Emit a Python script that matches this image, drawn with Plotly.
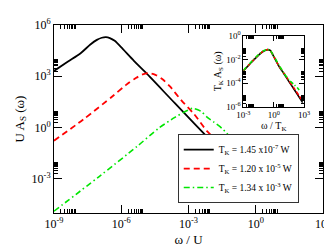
import plotly.graph_objects as go

# ---------------- data (main panel) ----------------
black_w = [1.0e-9, 4.06e-9, 1.54e-8, 4.19e-8, 8.18e-8, 1.35e-7, 2.07e-7, 3.10e-7, 5.12e-7,
           1.19e-6, 3.67e-6, 1.22e-5, 2.46e-4, 1.35e-2, 2.72e-1]
black_a = [2065, 7063, 22387, 71779, 134586, 179473, 195884, 172584, 118577,
           38371, 7998, 1667, 26.6, 0.111, 1.7e-3]

red_w = [1.0e-9, 2.16e-8, 4.36e-7, 1.65e-6, 4.49e-6, 9.06e-6, 1.65e-5, 3.33e-5, 6.70e-5,
         1.49e-4, 4.82e-4, 1.82e-3, 6.90e-3, 2.64e-2, 0.449]
red_a = [0.170, 3.16, 72.6, 315, 785, 1297, 1528, 1219, 693, 254, 38.7, 5.90, 0.596, 0.111, 1.7e-3]

green_w = [1.0e-9, 1.0e-7, 5.32e-6, 4.62e-5, 2.46e-4, 9.33e-4, 1.54e-3, 3.56e-3, 6.90e-3,
           1.35e-2, 3.10e-2, 0.1, 0.741]
green_a = [1.28e-5, 1.32e-3, 8.3e-2, 0.90, 3.91, 10.4, 13.3, 8.93, 3.91, 2.08, 0.90, 0.183, 0.0185]

names = ["T<sub>K</sub> = 1.45 x10<sup>-7</sup> W",
         "T<sub>K</sub> = 1.20 x 10<sup>-5</sup> W",
         "T<sub>K</sub> = 1.34 x 10<sup>-3</sup> W"]

# ---------------- data (inset, scaled) ----------------
inset_x_bk = [0.001, 0.00316, 0.01, 0.0316, 0.0794, 0.158, 0.251, 0.447, 1, 3.16, 10, 31.6, 100, 316, 708]
inset_bk = [1.10e-3, 3.16e-3, 8.91e-3, 2.40e-2, 4.68e-2, 6.31e-2, 7.08e-2, 6.03e-2, 1.78e-2,
            2.82e-3, 6.31e-4, 1.35e-4, 3.02e-5, 6.31e-6, 2.19e-6]
inset_x_rd = [0.001, 0.00316, 0.01, 0.0316, 0.0794, 0.158, 0.251, 0.447, 1, 3.16, 10, 31.6, 100, 316, 708]
inset_rd = [1.15e-3, 3.24e-3, 9.12e-3, 2.45e-2, 4.79e-2, 6.46e-2, 7.08e-2, 6.03e-2, 1.86e-2,
            3.02e-3, 7.08e-4, 1.58e-4, 3.72e-5, 8.32e-6, 3.02e-6]
inset_x_gr = [0.001, 0.00316, 0.01, 0.0316, 0.0794, 0.158, 0.251, 0.447, 1, 3.16, 10, 31.6, 79.4, 224, 398]
inset_gr = [1.20e-3, 3.47e-3, 1.0e-2, 2.63e-2, 5.01e-2, 6.61e-2, 7.08e-2, 6.03e-2, 2.0e-2,
            3.55e-3, 7.08e-4, 1.91e-4, 8.91e-5, 3.80e-5, 2.0e-5]

# ---------------- ticks ----------------
main_x_ticks = [1e-9, 1e-6, 1e-3, 1e0, 1e3]
main_x_text = ["10<sup>-9</sup>", "10<sup>-6</sup>", "10<sup>-3</sup>", "10<sup>0</sup>", "10<sup>3</sup>"]
main_y_ticks = [1e-3, 1e0, 1e3, 1e6]
main_y_text = ["10<sup>-3</sup>", "10<sup>0</sup>", "10<sup>3</sup>", "10<sup>6</sup>"]
inset_x_ticks = [1e-3, 1e0, 1e3]
inset_x_text = ["10<sup>-3</sup>", "10<sup>0</sup>", "10<sup>3</sup>"]
inset_y_ticks = [1e-6, 1e-4, 1e-2, 1e0]
inset_y_text = ["10<sup>-6</sup>", "10<sup>-4</sup>", "10<sup>-2</sup>", "10<sup>0</sup>"]


def minors(bases):
    return [m * b for b in bases for m in range(2, 10)]


FONT = "Liberation Serif"
colors = ["#000000", "#ff0000", "#00e600"]
dashes = ["solid", "6px,4px", "6px,3px,1.5px,3px"]
widths = [1.8, 1.8, 1.6]

fig = go.Figure()
for w, a, n, c, d, lw in zip([black_w, red_w, green_w], [black_a, red_a, green_a], names, colors, dashes, widths):
    fig.add_trace(go.Scatter(x=w, y=a, mode="lines", name=n,
                             line=dict(color=c, dash=d, width=lw, shape="spline", smoothing=0.8),
                             xaxis="x", yaxis="y"))
for xx, yy, c, d in zip([inset_x_bk, inset_x_rd, inset_x_gr], [inset_bk, inset_rd, inset_gr], colors,
                        ["solid", "4px,2px", "4px,2px,1px,2px"]):
    fig.add_trace(go.Scatter(x=xx, y=yy, mode="lines", showlegend=False,
                             line=dict(color=c, dash=d, width=1.6, shape="spline", smoothing=0.6),
                             xaxis="x2", yaxis="y2"))

axis_common = dict(type="log", showgrid=False, zeroline=False, showline=True, linecolor="black",
                   linewidth=1, mirror="allticks", ticks="inside", tickcolor="black", tickmode="array")

fig.update_layout(
    width=332, height=246,
    margin=dict(l=46, r=10, t=9, b=35),
    paper_bgcolor="white", plot_bgcolor="white",
    font=dict(family=FONT, color="black", size=12),
    showlegend=True,
    legend=dict(x=0.46, y=0.42, xanchor="left", yanchor="top", bgcolor="white",
                bordercolor="#333333", borderwidth=1, font=dict(family=FONT, size=9.5),
                tracegroupgap=0, itemwidth=30),
    xaxis=dict(axis_common, range=[-9, 3], tickvals=main_x_ticks, ticktext=main_x_text,
               ticklen=8, tickwidth=1, tickfont=dict(size=12),
               minor=dict(tickmode="array", tickvals=minors([1e-9, 1e-6, 1e-3, 1e0]), ticks="inside",
                          ticklen=4, tickwidth=0.8, tickcolor="black", showgrid=False),
               title=dict(text="ω / U", font=dict(size=13), standoff=4), domain=[0, 1]),
    yaxis=dict(axis_common, range=[-5, 6], tickvals=main_y_ticks, ticktext=main_y_text,
               ticklen=8, tickwidth=1, tickfont=dict(size=12),
               minor=dict(tickmode="array", tickvals=minors([1e-3, 1e0, 1e3]), ticks="inside",
                          ticklen=4, tickwidth=0.8, tickcolor="black", showgrid=False),
               title=dict(text="U A<sub>S</sub> (ω)", font=dict(size=13), standoff=4), domain=[0, 1]),
    xaxis2=dict(axis_common, range=[-3, 3], tickvals=inset_x_ticks, ticktext=inset_x_text,
                ticklen=5, tickwidth=1, tickfont=dict(size=9), anchor="y2",
                minor=dict(tickmode="array", tickvals=minors([1e-3, 1e0]), ticks="inside",
                           ticklen=3, tickwidth=0.8, tickcolor="black", showgrid=False),
                title=dict(text="ω / T<sub>K</sub>", font=dict(size=10), standoff=2),
                domain=[0.704, 0.930]),
    yaxis2=dict(axis_common, range=[-6, 0], tickvals=inset_y_ticks, ticktext=inset_y_text,
                ticklen=5, tickwidth=1, tickfont=dict(size=9), anchor="x2",
                minor=dict(tickmode="array", tickvals=minors([1e-6, 1e-4, 1e-2]), ticks="inside",
                           ticklen=3, tickwidth=0.8, tickcolor="black", showgrid=False),
                title=dict(text="T<sub>K</sub> A<sub>S</sub> (ω)", font=dict(size=10), standoff=2),
                domain=[0.566, 0.941]),
)

fig.write_html("out.html")
